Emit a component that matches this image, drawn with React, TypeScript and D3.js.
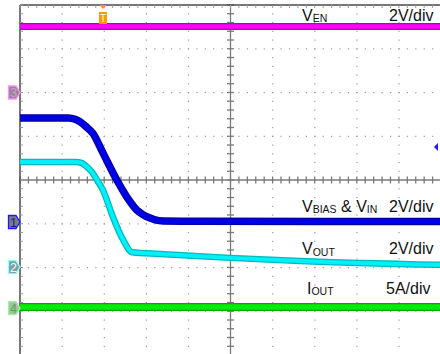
import React from "react";
import * as d3 from "d3";

// time in divisions (0..10), level in divisions (-4..4, 0 = centre line)
const enTime = [0, 10];
const enLevel = [3.51, 3.51];

const biasTime = [0, 1.15, 1.31, 1.43, 1.57, 1.73, 1.97, 2.3, 2.54, 2.78, 2.92, 3.09, 3.21, 3.4, 4.28, 10];
const biasLevel = [1.42, 1.42, 1.39, 1.33, 1.22, 1.07, 0.62, 0, -0.39, -0.69, -0.79, -0.87, -0.91, -0.935, -0.945, -0.95];

const outTime = [0, 1.33, 1.46, 1.54, 1.71, 1.83, 1.97, 2.21, 2.45, 2.66, 3.33, 4.99, 6.65, 10];
const outLevel = [0.41, 0.41, 0.39, 0.34, 0.18, 0, -0.23, -0.85, -1.37, -1.65, -1.69, -1.78, -1.85, -1.94];

const ioutTime = [0, 10];
const ioutLevel = [-2.9, -2.9];

const channelIds = ["3", "1", "2", "4"];
const channelOffsets = [2.0, -0.96, -1.99, -2.93];

const triggerTime = 1.97;
const triggerLevel = 0.754;

const labelMain = ["V", "V", "V", "I"];
const labelSub = ["EN", "BIAS", "OUT", "OUT"];
const labelExtra = ["", " & V", "", ""];
const labelExtraSub = ["", "IN", "", ""];
const labelScale = ["2V/div", "2V/div", "2V/div", "5A/div"];

const W = 440;
const H = 354;

const markerStyle = [
  { fill: "#8c8c8c", stroke: "#ff8cff", text: "#e090e0" },
  { fill: "#7c7c7c", stroke: "#1a1aff", text: "#1a1a90" },
  { fill: "#7fa0a0", stroke: "#8cffff", text: "#e6ffff" },
  { fill: "#98c898", stroke: "#a8eea8", text: "#5fa05f" },
];

const App = () => {
  const x = d3.scaleLinear().domain([0, 10]).range([20, 441]);
  const y = d3.scaleLinear().domain([-4, 4]).range([355, 5]);

  const line = d3
    .line<[number, number]>()
    .x((d) => x(d[0]))
    .y((d) => y(d[1]))
    .curve(d3.curveMonotoneX);

  const zip = (t: number[], v: number[]) => t.map((d, i) => [d, v[i]] as [number, number]);

  const majorX = d3.range(1, 10);
  const majorY = d3.range(-3, 4);
  const minorX = d3.range(0, 50.01).map((i) => i / 5);
  const minorY = d3.range(-20, 20.01).map((i) => i / 5);

  const traces = [
    { d: zip(enTime, enLevel), color: "#ff00ff", edge: "#b000b0", w: 7 },
    { d: zip(biasTime, biasLevel), color: "#0000e6", edge: "#0000a0", w: 7.5 },
    { d: zip(outTime, outLevel), color: "#00f0f8", edge: "#00b8c0", w: 6.5 },
    { d: zip(ioutTime, ioutLevel), color: "#00ee00", edge: "#00a800", w: 8 },
  ];

  const labelLevels = [3.64, -0.72, -1.7, -2.6];
  const fontFamily = "'Liberation Sans', Arial, sans-serif";

  return (
    <svg
      width={W}
      height={H}
      style={{ position: "absolute", left: 0, top: 0, background: "#fff" }}
    >
      {/* dotted grid */}
      <g fill="#9a9a9a">
        {majorX.filter((v) => v !== 5).map((v) =>
          minorY.map((m) => (
            <rect key={`vx${v}_${m}`} x={x(v) - 0.5} y={y(m) - 0.5} width={1.2} height={1.2} />
          ))
        )}
        {majorY.filter((v) => v !== 0).map((v) =>
          minorX.map((m) => (
            <rect key={`hy${v}_${m}`} x={x(m) - 0.5} y={y(v) - 0.5} width={1.2} height={1.2} />
          ))
        )}
      </g>

      {/* centre axes with ticks */}
      <g stroke="#7a7a7a" strokeWidth={1.3}>
        <line x1={x(0)} x2={W} y1={y(0)} y2={y(0)} />
        <line x1={x(5)} x2={x(5)} y1={y(4)} y2={H} />
        {minorX.map((m) => (
          <line key={`cx${m}`} x1={x(m)} x2={x(m)} y1={y(0) - 3.5} y2={y(0) + 3.5} />
        ))}
        {minorY.map((m) => (
          <line key={`cy${m}`} x1={x(5) - 3.5} x2={x(5) + 3.5} y1={y(m)} y2={y(m)} />
        ))}
      </g>

      {/* frame */}
      <g stroke="#4a4a4a">
        <line x1={x(0)} x2={W} y1={y(4)} y2={y(4)} strokeWidth={1.5} />
        <line x1={x(0)} x2={x(0)} y1={y(4)} y2={H} strokeWidth={1.5} />
        {minorX.map((m) => (
          <line key={`tx${m}`} x1={x(m)} x2={x(m)} y1={y(4)} y2={y(4) + 3} stroke="#999" />
        ))}
        {minorY.map((m) => (
          <line key={`ly${m}`} x1={x(0)} x2={x(0) + 3} y1={y(m)} y2={y(m)} stroke="#999" />
        ))}
      </g>

      {/* traces */}
      {traces.map((t, i) => (
        <g key={`tr${i}`} fill="none" strokeLinejoin="round">
          <path d={line(t.d) ?? ""} stroke={t.edge} strokeWidth={t.w} />
          <path d={line(t.d) ?? ""} stroke={t.color} strokeWidth={t.w - 2.5} />
        </g>
      ))}

      {/* trigger position marker */}
      <g>
        <path
          d={`M${x(triggerTime) - 3.5},${y(4)} L${x(triggerTime) + 3.5},${y(4)} L${x(triggerTime)},${y(4) + 4} Z`}
          fill="#ff9900"
        />
        <rect x={x(triggerTime) - 4} y={y(4) + 7} width={8} height={12} fill="#ff9900" />
        <text
          x={x(triggerTime)}
          y={y(4) + 17}
          fontSize={10}
          fontFamily={fontFamily}
          fill="#fff"
          textAnchor="middle"
        >
          T
        </text>
      </g>

      {/* trigger level arrow */}
      <path
        d={`M${W - 6},${y(triggerLevel)} L${W - 2},${y(triggerLevel) - 4} L${W - 2},${y(triggerLevel) + 4} Z`}
        fill="#1a1aff"
      />

      {/* channel ground markers */}
      {channelIds.map((id, i) => {
        const cy = y(channelOffsets[i]);
        const s = markerStyle[i];
        return (
          <g key={`ch${id}`}>
            <path
              d={`M8.5,${cy - 6.5} L16,${cy - 6.5} L20,${cy} L16,${cy + 6.5} L8.5,${cy + 6.5} Z`}
              fill={s.fill}
              stroke={s.stroke}
              strokeWidth={1.3}
            />
            <text
              x={13.5}
              y={cy + 4.5}
              fontSize={12.5}
              fontFamily={fontFamily}
              fill={s.text}
              textAnchor="middle"
            >
              {id}
            </text>
          </g>
        );
      })}

      {/* labels */}
      <g fontFamily={fontFamily} fill="#111">
        {labelMain.map((m, i) => (
          <g key={`lb${i}`}>
            <text x={labelMain[i] === "I" ? 307 : 302} y={y(labelLevels[i])} fontSize={16}>
              {m}
              <tspan fontSize={10.5} dy={1.5}>
                {labelSub[i]}
              </tspan>
              {labelExtra[i] && (
                <>
                  <tspan fontSize={16} dy={-1.5}>
                    {labelExtra[i]}
                  </tspan>
                  <tspan fontSize={10.5} dy={1.5}>
                    {labelExtraSub[i]}
                  </tspan>
                </>
              )}
            </text>
            <text x={labelScale[i] === "5A/div" ? 386 : 389} y={y(labelLevels[i])} fontSize={16}>
              {labelScale[i]}
            </text>
          </g>
        ))}
      </g>
    </svg>
  );
};

export default App;
